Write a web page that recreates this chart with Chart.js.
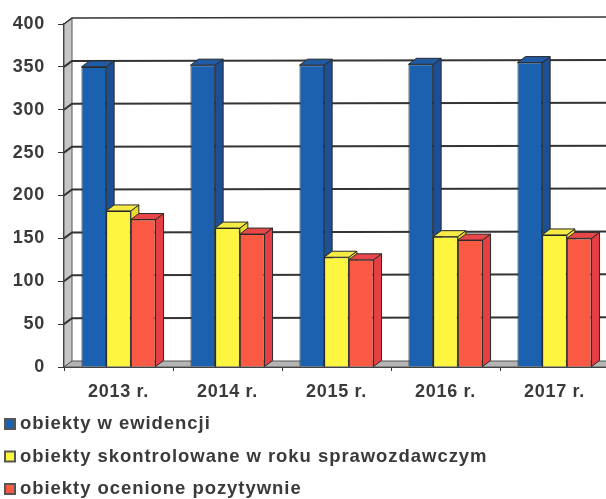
<!DOCTYPE html>
<html><head><meta charset="utf-8">
<style>html,body{margin:0;padding:0;background:#fff;overflow:hidden;width:606px;height:499px}
canvas{display:block;filter:blur(0.45px)}</style>
<script src="https://cdn.jsdelivr.net/npm/chart.js@4"></script></head>
<body><canvas id="c" width="620" height="499"></canvas>
<script>
const categories = ['2013 r.','2014 r.','2015 r.','2016 r.','2017 r.'];
const evidence = [350,352,352,353,355];
const inspected = [182,162,128,152,154];
const positive = [172,155,125,148,150];
const seriesNames = ['obiekty w ewidencji','obiekty skontrolowane w roku sprawozdawczym','obiekty ocenione pozytywnie'];
const fronts = ['#1b61b0','#fdf53f','#fa5a43'];
const sides = ['#1c4f94','#e8dc30','#e63f43'];
const tops = ['#1f5aa3','#f6ea45','#e8474a'];
const ink = '#3a3a3a', line = '#333333';
const DX = 8, DY = 6;

function poly(ctx, pts, fill, stroke, w){
  ctx.beginPath();
  pts.forEach((p,i)=> i ? ctx.lineTo(p[0],p[1]) : ctx.moveTo(p[0],p[1]));
  ctx.closePath();
  if(fill){ctx.fillStyle=fill;ctx.fill();}
  if(stroke){ctx.strokeStyle=stroke;ctx.lineWidth=w||1;ctx.stroke();}
}
const spacing = {
  id:'spacing',
  beforeLayout(c){c.ctx.letterSpacing='0.7px';},
  beforeDraw(c){c.ctx.letterSpacing='0.7px';}
};
const room = {
  id:'room',
  beforeDatasetsDraw(c){
    const {ctx,chartArea:a,scales:{y}} = c;
    ctx.save();
    poly(ctx,[[a.left,y.getPixelForValue(400)],[a.left+DX,y.getPixelForValue(400)-DY],[a.left+DX,y.getPixelForValue(0)-DY],[a.left,y.getPixelForValue(0)]],'#c6c6c6','#555',1);
    poly(ctx,[[a.left,a.bottom],[a.left+DX,a.bottom-DY],[a.right+DX,a.bottom-DY],[a.right,a.bottom]],'#b4b4b4','#555',1);
    y.ticks.forEach(t=>{
      if(t.value===0) return;
      const p = y.getPixelForValue(t.value);
      ctx.beginPath();
      ctx.moveTo(a.left,p);ctx.lineTo(a.left+DX,p-DY);ctx.lineTo(a.right+DX,p-DY-1);
      ctx.strokeStyle=line;ctx.lineWidth=t.value===400?1.5:2;ctx.stroke();
    });
    ctx.restore();
  },
  beforeDatasetDraw(){ return false; },
  afterDatasetsDraw(c){
    const ctx=c.ctx;
    [0,1,2].forEach(i=>{
      const meta=c.getDatasetMeta(i);
      ctx.save();
      meta.data.forEach(b=>{
        const {x,y,base,width}=b.getProps(['x','y','base','width'],true);
        const l=x-width/2,r=x+width/2;
        poly(ctx,[[r,y],[r+DX,y-DY],[r+DX,base-DY],[r,base]],sides[i],'#2a2a2a',1);
        poly(ctx,[[l,y],[l+DX,y-DY],[r+DX,y-DY],[r,y]],tops[i],'#2a2a2a',1);
      });
      ctx.restore();
      meta.controller.draw();
    });
  }
};
const legendLines = {
  id:'legendLines',
  afterDraw(c){
    const ctx=c.ctx;
    ctx.save();
    ctx.font='600 18.5px "Liberation Sans"';
    ctx.letterSpacing='0.95px';
    ctx.textBaseline='middle';
    seriesNames.forEach((n,i)=>{
      const yy=424+i*32.5;
      ctx.fillStyle=fronts[i];ctx.strokeStyle='#555';ctx.lineWidth=2;
      ctx.fillRect(5,yy-5,10,10);ctx.strokeRect(5,yy-5,10,10);
      ctx.fillStyle=ink;
      ctx.fillText(n,20,yy);
    });
    ctx.restore();
  }
};
const values=[evidence,inspected,positive];
new Chart(document.getElementById('c'),{
  type:'bar',
  data:{labels:categories,datasets:values.map((v,i)=>({
    label:seriesNames[i],data:v,
    backgroundColor:fronts[i],borderColor:'#2a2a2a',borderWidth:1,
    categoryPercentage:0.68,barPercentage:1
  }))},
  options:{
    responsive:false,animation:false,
    layout:{padding:{top:24,right:11,bottom:100,left:0}},
    plugins:{legend:{display:false},tooltip:{enabled:false}},
    scales:{
      x:{
        afterFit(s){s.height=32;},
        grid:{drawOnChartArea:false,color:line,tickLength:4,offset:true},
        border:{color:line,width:2},
        ticks:{color:ink,font:{family:'"Liberation Sans"',size:18,weight:'600'},padding:10,maxRotation:0}
      },
      y:{
        min:0,max:400,
        afterFit(s){s.width=64;},
        grid:{drawOnChartArea:false,color:line,tickLength:6},
        border:{color:line,width:2},
        ticks:{stepSize:50,color:ink,font:{family:'"Liberation Sans"',size:18,weight:'600'},padding:13}
      }
    }
  },
  plugins:[spacing,room,legendLines]
});
</script></body></html>
